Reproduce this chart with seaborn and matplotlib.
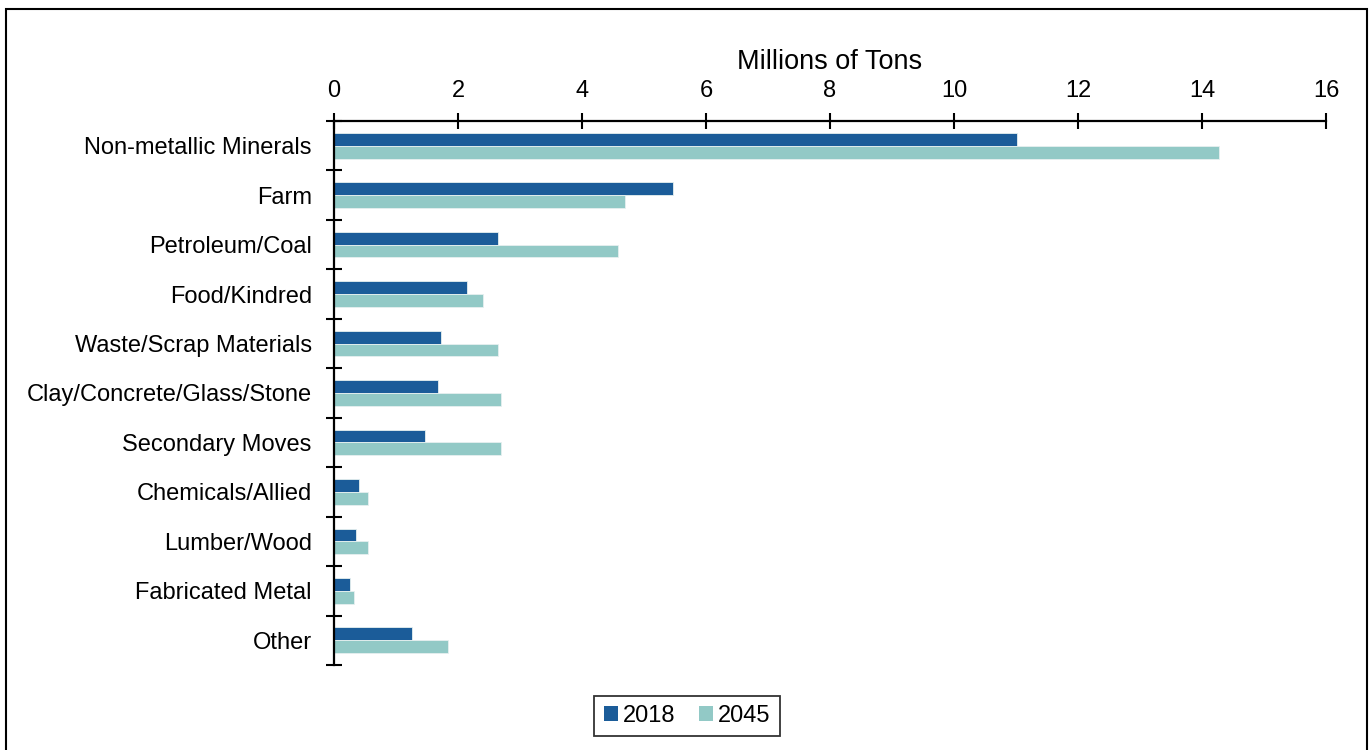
import matplotlib
matplotlib.use("Agg")
import matplotlib.pyplot as plt
import seaborn as sns
import pandas as pd
from matplotlib.patches import Patch, Rectangle

categories = ["Non-metallic Minerals", "Farm", "Petroleum/Coal", "Food/Kindred",
              "Waste/Scrap Materials", "Clay/Concrete/Glass/Stone", "Secondary Moves",
              "Chemicals/Allied", "Lumber/Wood", "Fabricated Metal", "Other"]
values_2018 = [11.01, 5.46, 2.65, 2.15, 1.73, 1.67, 1.46, 0.41, 0.36, 0.25, 1.26]
values_2045 = [14.28, 4.69, 4.58, 2.40, 2.65, 2.69, 2.69, 0.55, 0.55, 0.33, 1.84]
series = ["2018", "2045"]
xticks = [0, 2, 4, 6, 8, 10, 12, 14, 16]
colors = ["#1B5C99", "#92C9C6"]

df = pd.DataFrame({
    "Category": categories * 2,
    "Value": values_2018 + values_2045,
    "Year": [series[0]] * len(categories) + [series[1]] * len(categories),
})

sns.set_style("white")
plt.rcParams['font.family'] = ['Liberation Sans', 'DejaVu Sans']
plt.rcParams['text.color'] = 'black'
plt.rcParams['xtick.color'] = 'black'
plt.rcParams['ytick.color'] = 'black'
plt.rcParams['axes.labelcolor'] = 'black'

fig = plt.figure(figsize=(13.69, 7.5), dpi=100)
ax = fig.add_axes([334/1369, 1-665/750, (1326-334)/1369, (665-121)/750])

sns.barplot(data=df, y="Category", x="Value", hue="Year", order=categories,
            hue_order=series, palette=colors, orient="h", width=0.52,
            edgecolor="#e6f0f0", linewidth=0.6, ax=ax, legend=False, saturation=1)

ax.set_xlim(0, 16)
ax.set_ylim(len(categories) - 0.5, -0.5)
ax.xaxis.set_ticks_position("top")
ax.xaxis.set_label_position("top")
ax.set_xticks(xticks)
ax.set_xticklabels([str(t) for t in xticks], fontsize=17)
ax.set_xlabel("Millions of Tons", fontsize=19.5, labelpad=8, color="black")
ax.set_ylabel("")
ax.set_yticks(range(len(categories)))
ax.set_yticklabels(categories, fontsize=17)
ax.set_yticks([i - 0.5 for i in range(len(categories) + 1)], minor=True)
ax.tick_params(axis="y", which="major", left=False, length=0, pad=16, labelcolor="black")
ax.tick_params(axis="y", which="minor", left=True, length=11, width=1.5, direction="inout", color="black")
ax.tick_params(axis="x", which="major", length=11, width=1.5, direction="inout", color="black",
               pad=8, top=True, bottom=False, labelcolor="black")
for s in ["right", "bottom"]:
    ax.spines[s].set_visible(False)
for s in ["left", "top"]:
    ax.spines[s].set_visible(True)
    ax.spines[s].set_color("black")
    ax.spines[s].set_linewidth(1.6)

handles = [Patch(facecolor=c, edgecolor="none", label=l) for c, l in zip(colors, series)]
leg = fig.legend(handles=handles, loc="center", bbox_to_anchor=(687/1369, 1-716/750),
                 ncol=2, fontsize=17, frameon=True, fancybox=False, edgecolor="black",
                 handlelength=0.6, handleheight=0.6, handletextpad=0.2, columnspacing=1.0,
                 borderpad=0.4)
leg.get_frame().set_linewidth(1.3)
for t in leg.get_texts():
    t.set_color("black")

fig.patches.append(Rectangle((6/1369, -0.01), (1367-6)/1369, 1-9/750 + 0.01,
                             transform=fig.transFigure, fill=False, edgecolor="black",
                             linewidth=1.5))

fig.savefig("out.png", dpi=100)
